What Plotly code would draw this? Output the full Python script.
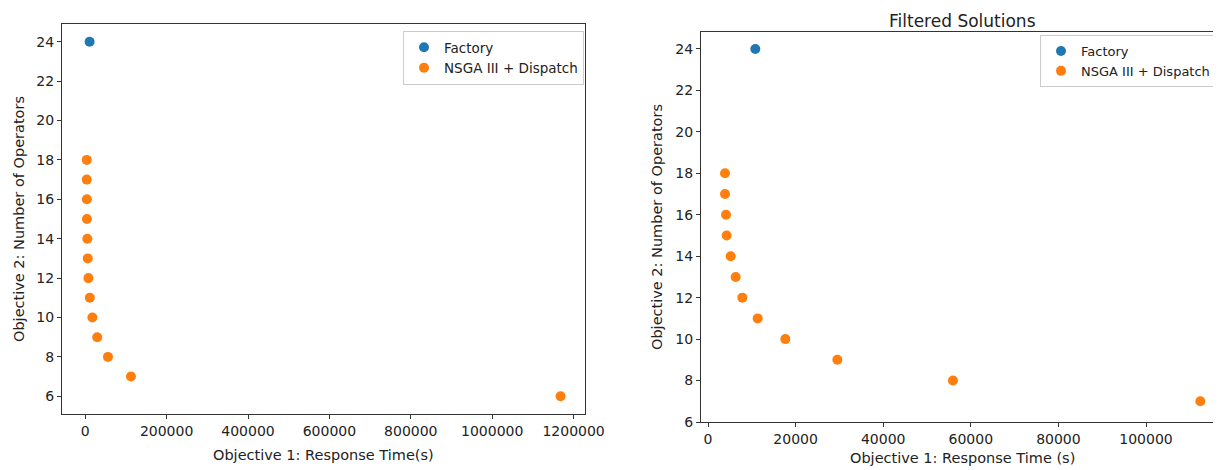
import plotly.graph_objects as go

# ---- data ----
factory_time = [10800]
factory_ops = [24]

nsga_time = [3880, 3880, 4110, 4260, 5180, 6320, 7840, 11340, 17650, 29530, 55930, 112400, 1168000]
nsga_ops = [18, 17, 16, 15, 14, 13, 12, 11, 10, 9, 8, 7, 6]

filt_time = [3880, 3880, 4110, 4260, 5180, 6320, 7840, 11340, 17650, 29530, 55930, 112400]
filt_ops = [18, 17, 16, 15, 14, 13, 12, 11, 10, 9, 8, 7]

left_xticks = [0, 200000, 400000, 600000, 800000, 1000000, 1200000]
right_xticks = [0, 20000, 40000, 60000, 80000, 100000]
yticks = [6, 8, 10, 12, 14, 16, 18, 20, 22, 24]

title_right = "Filtered Solutions"
xlabel_left = "Objective 1: Response Time(s)"
xlabel_right = "Objective 1: Response Time (s)"
ylabel = "Objective 2: Number of Operators"

BLUE = "#1f77b4"
ORANGE = "#ff7f0e"
FONT = "DejaVu Sans"
TXT = "#222222"
OFF = 8  # default page body margin
W, H = 1221 - OFF, 470 - OFF


def px_x(p):
    return (p - OFF) / W


def px_y(p):
    return 1 - (p - OFF) / H


fig = go.Figure()
fig.add_trace(go.Scatter(x=factory_time, y=factory_ops, mode="markers", name="Factory",
                         marker=dict(color=BLUE, size=10), xaxis="x", yaxis="y", legend="legend"))
fig.add_trace(go.Scatter(x=nsga_time, y=nsga_ops, mode="markers", name="NSGA III + Dispatch",
                         marker=dict(color=ORANGE, size=10), xaxis="x", yaxis="y", legend="legend"))
fig.add_trace(go.Scatter(x=factory_time, y=factory_ops, mode="markers", name="Factory",
                         marker=dict(color=BLUE, size=10), xaxis="x2", yaxis="y2", legend="legend2"))
fig.add_trace(go.Scatter(x=filt_time, y=filt_ops, mode="markers", name="NSGA III + Dispatch",
                         marker=dict(color=ORANGE, size=10), xaxis="x2", yaxis="y2", legend="legend2"))

axis_common = dict(showgrid=False, zeroline=False, showline=True, linecolor="#333333", linewidth=1.2,
                   ticks="outside", ticklen=4, tickcolor="#333333", tickwidth=1, automargin=False,
                   tickfont=dict(family=FONT, size=14, color=TXT))

fig.update_layout(
    width=W, height=H,
    margin=dict(l=0, r=0, t=0, b=0, pad=0),
    paper_bgcolor="white", plot_bgcolor="white",
    font=dict(family=FONT, color=TXT),
    xaxis=dict(domain=[px_x(62), px_x(585)], range=[-57000, 1228000],
               tickvals=left_xticks, ticktext=[str(v) for v in left_xticks],
               anchor="y", mirror=True, **axis_common),
    yaxis=dict(domain=[px_y(414), px_y(24)], range=[5.1, 24.9],
               tickvals=yticks, ticktext=[str(v) for v in yticks],
               anchor="x", mirror=True, **axis_common),
    xaxis2=dict(domain=[px_x(701), 1.0], range=[-1600, 117120],
                tickvals=right_xticks, ticktext=[str(v) for v in right_xticks],
                anchor="y2", mirror=True, **axis_common),
    yaxis2=dict(domain=[px_y(422), px_y(32)], range=[6, 24.82],
                tickvals=yticks, ticktext=[str(v) for v in yticks],
                anchor="x2", mirror=False, **axis_common),
    legend=dict(x=px_x(403), y=px_y(31), xanchor="left", yanchor="top",
                bgcolor="white", bordercolor="#cccccc", borderwidth=1,
                font=dict(family=FONT, size=13.5, color=TXT),
                itemwidth=30, tracegroupgap=0),
    legend2=dict(x=px_x(1216), y=px_y(35), xanchor="right", yanchor="top",
                 bgcolor="white", bordercolor="#cccccc", borderwidth=1,
                 font=dict(family=FONT, size=13, color=TXT),
                 itemwidth=30, tracegroupgap=0),
    showlegend=True,
)

ann_font = dict(family=FONT, size=14.5, color=TXT)
annotations = [
    dict(text=ylabel, x=px_x(19), y=px_y(219), textangle=-90, font=ann_font, yanchor="middle"),
    dict(text=xlabel_left, x=px_x(323), y=px_y(455), font=ann_font, yanchor="middle"),
    dict(text=ylabel, x=px_x(657), y=px_y(227), textangle=-90, font=ann_font, yanchor="middle"),
    dict(text=xlabel_right, x=px_x(962), y=px_y(458), font=ann_font, yanchor="middle"),
    dict(text=title_right, x=px_x(962), y=px_y(8.5), yanchor="top",
         font=dict(family=FONT, size=17, color=TXT)),
]
for a in annotations:
    fig.add_annotation(xref="paper", yref="paper", showarrow=False,
                       xanchor="center", **a)

fig.write_html("out.html")
